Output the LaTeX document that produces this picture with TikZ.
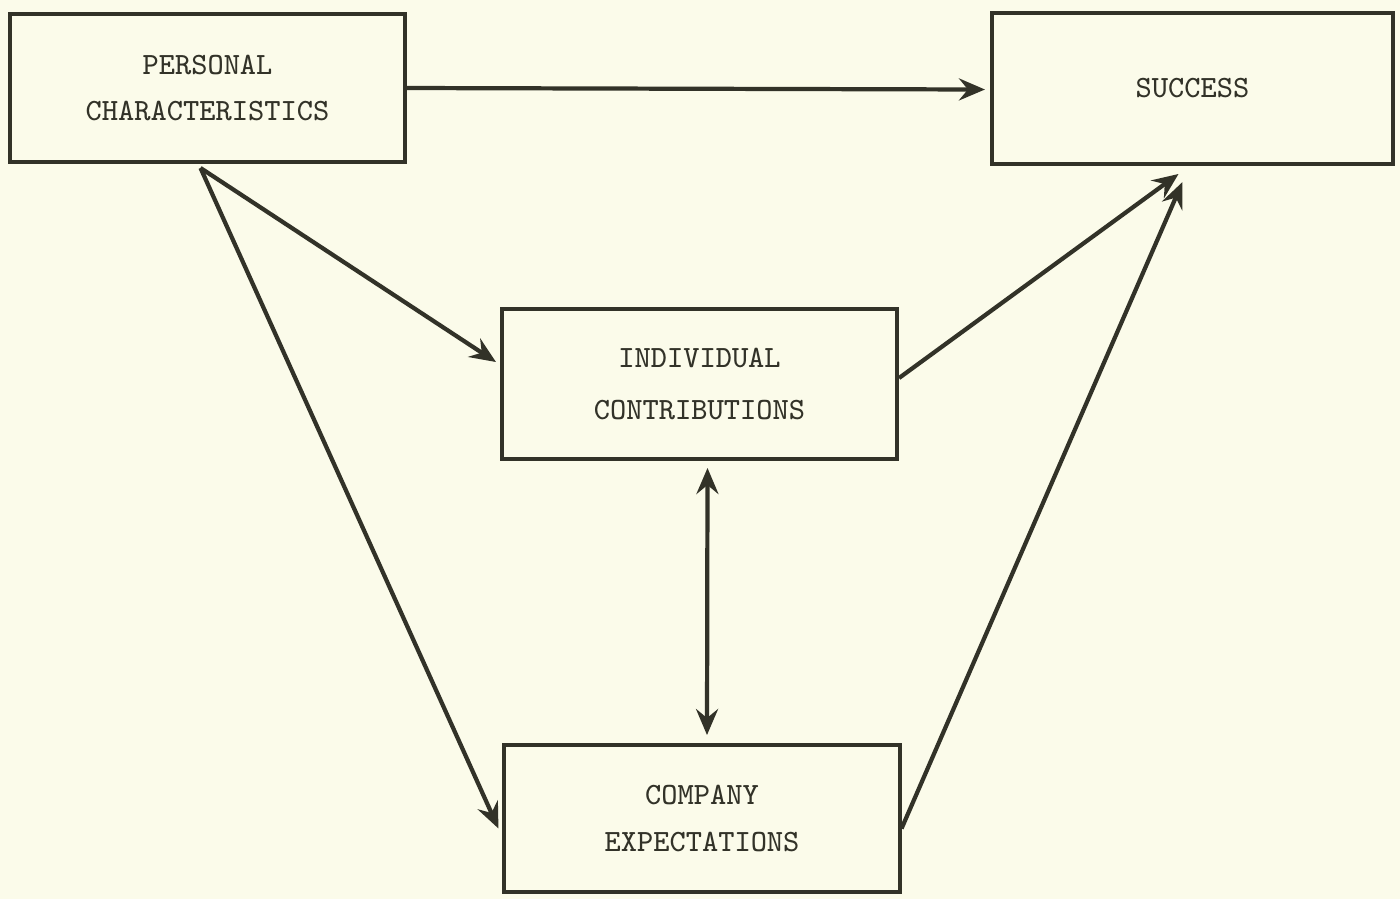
\documentclass[tikz,border=0pt]{standalone}
\usetikzlibrary{arrows.meta,calc}
\definecolor{paper}{RGB}{251,251,234}
\definecolor{ink}{RGB}{50,50,40}

\begin{document}
\begin{tikzpicture}[x=0.01cm,y=-0.01cm,
    box/.style={draw=ink,line width=1.1pt,minimum width=3.95cm,minimum height=1.48cm,
      align=center,text=ink,font=\ttfamily\fontsize{8.8}{13.2}\selectfont},
    tip/.tip={Stealth[length=2.6mm,width=2.2mm,inset=0.9mm]},
    link/.style={draw=ink,line width=1.2pt,-tip}]
  % page
  \fill[paper] (0,0) rectangle (1400,899);
  \useasboundingbox (0,0) rectangle (1400,899);

  % boxes
  \node[box] (pc) at (207.5,88) {PERSONAL\\CHARACTERISTICS};
  \node[box,minimum width=4.01cm,minimum height=1.51cm] (success) at (1192.5,88.5) {SUCCESS};
  \node[box,minimum height=1.5cm] (ic) at (699.5,384) {INDIVIDUAL\\[0.06cm]CONTRIBUTIONS};
  \node[box,minimum height=1.47cm] (ce) at (702,818.5) {COMPANY\\EXPECTATIONS};

  % corner points of the arrows
  \coordinate (pcfoot) at ($(pc.south)+(-7,4)$);
  \coordinate (icin) at ($(ic.west)+(-4,-22)$);
  \coordinate (cein) at ($(ce.west)+(-4,10)$);
  \coordinate (icout) at ($(ic.east)+(0,-6)$);
  \coordinate (ceout) at ($(ce.east)+(0,10)$);
  \coordinate (sucA) at ($(success.south)+(-14,8)$);
  \coordinate (sucB) at ($(success.south)+(-10,16)$);
  \coordinate (ictop) at ($(ic.south)+(8,7)$);
  \coordinate (cetop) at ($(ce.north)+(5,-8)$);

  % arrows
  \draw[link] (pc.east) -- ($(success.west)+(-5,1)$);
  \draw[link] (pcfoot) -- (icin);
  \draw[link] (pcfoot) -- (cein);
  \draw[link] (icout) -- (sucA);
  \draw[link] (ceout) -- (sucB);
  \draw[link,tip-tip] (ictop) -- (cetop);
\end{tikzpicture}
\end{document}
